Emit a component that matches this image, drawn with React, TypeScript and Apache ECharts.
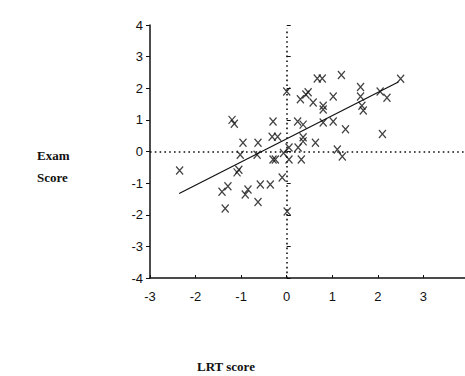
import React, { useEffect, useRef } from "react";
import * as echarts from "echarts";

const xMin = -3;
const xMax = 4;
const yMin = -4;
const yMax = 4;

const lrtScore = [
  -2.35, -1.2, -1.15, -0.3, -0.96, -0.63, -0.32, -0.2, -1.02, -0.65, -0.25, -1.09, -1.05,
  -1.42, -1.29, -1.35, -0.91, -0.85, -0.63, -0.58, -0.36, -0.1, 0.01, -0.07,
  0.0, 0.67, 0.78, 1.2, 1.62, 1.62, 0.3, 0.42, 0.47, 0.58, 0.8, 0.8, 1.02, 1.65, 1.68,
  2.05, 2.2, 2.5, 0.24, 0.36, 0.8, 1.02, 1.29, 2.1, 0.36, 0.36, 0.63, 0.05, 0.25,
  1.11, 1.22, 0.05, 0.32, -0.3,
];
const examScore = [
  -0.6, 1.0, 0.88, 0.95, 0.28, 0.28, 0.47, 0.47, -0.1, -0.1, -0.25, -0.66, -0.58,
  -1.27, -1.1, -1.8, -1.36, -1.2, -1.6, -1.04, -1.04, -0.82, -1.9, -0.05,
  1.9, 2.31, 2.31, 2.42, 2.04, 1.74, 1.65, 1.8, 1.87, 1.55, 1.45, 1.33, 1.74, 1.45, 1.3,
  1.9, 1.7, 2.3, 0.95, 0.85, 0.92, 0.95, 0.7, 0.55, 0.45, 0.32, 0.28, 0.13, 0.13,
  0.06, -0.16, -0.25, -0.25, -0.25,
];
const fitLine = [
  [-2.36, -1.33],
  [2.45, 2.2],
];
const yName = "Exam\nScore";
const xName = "LRT score";

export default function App() {
  const ref = useRef<HTMLDivElement>(null);
  useEffect(() => {
    if (!ref.current) return;
    const chart = echarts.init(ref.current, null, { renderer: "svg" });
    const points = lrtScore.map((x, i) => [x, examScore[i]]);
    const labelFont = {
      fontFamily: "Liberation Sans",
      fontSize: 13,
      color: "#111",
    };
    const dotted = { color: "#111", width: 1.6, type: [1.6, 3.2] as any };
    chart.setOption({
      animation: false,
      backgroundColor: "#fff",
      grid: { left: 150, right: 11, top: 25, bottom: 98 },
      xAxis: {
        type: "value",
        min: xMin,
        max: xMax,
        interval: 1,
        axisLine: { onZero: false, lineStyle: { color: "#111", width: 1.5 } },
        axisTick: { inside: true, length: 3, lineStyle: { color: "#111", width: 1 } },
        axisLabel: { ...labelFont, margin: 12 },
        splitLine: { show: false },
      },
      yAxis: [
        {
          type: "value",
          min: yMin,
          max: yMax,
          interval: 1,
          axisLine: { onZero: false, lineStyle: { color: "#111", width: 1.5 } },
          axisTick: { inside: false, length: 4, lineStyle: { color: "#111", width: 1 } },
          axisLabel: { ...labelFont, margin: 7 },
          splitLine: { show: false },
        },
        {
          type: "value",
          position: "left",
          min: yMin,
          max: yMax,
          interval: 1,
          axisLine: { show: false },
          axisTick: { inside: true, length: 4, lineStyle: { color: "#111", width: 1 } },
          axisLabel: { show: false },
          splitLine: { show: false },
        },
      ],
      series: [
        {
          type: "scatter",
          data: points,
          symbol: "path://M0,0L8,9M8,0L0,9",
          symbolSize: [7, 8],
          itemStyle: { color: "rgba(0,0,0,0)", borderColor: "#111", borderWidth: 1.3 },
          emphasis: { disabled: true },
          silent: true,
          markLine: {
            silent: true,
            symbol: "none",
            label: { show: false },
            lineStyle: dotted,
            data: [
              [{ coord: [0, yMin] }, { coord: [0, 3.9] }],
              [{ coord: [xMin, 0] }, { coord: [xMax, 0] }],
            ],
          },
        },
        {
          type: "line",
          data: fitLine,
          showSymbol: false,
          symbol: "none",
          lineStyle: { color: "#111", width: 1.2 },
          silent: true,
        },
      ],
      graphic: [
        {
          type: "text",
          left: 37,
          top: 144,
          style: {
            text: yName,
            fontFamily: "Liberation Serif",
            fontWeight: "bold",
            fontSize: 13,
            lineHeight: 22,
            fill: "#111",
            align: "left",
          },
        },
        {
          type: "text",
          left: 197,
          top: 360,
          style: {
            text: xName,
            fontFamily: "Liberation Serif",
            fontWeight: "bold",
            fontSize: 13,
            fill: "#111",
          },
        },
      ],
    });
    return () => chart.dispose();
  }, []);
  return (
    <div
      style={{
        position: "fixed",
        left: 0,
        top: 0,
        width: 465,
        height: 376,
        overflow: "hidden",
        background: "#fff",
      }}
    >
      <div ref={ref} style={{ width: 480, height: 376 }} />
    </div>
  );
}
